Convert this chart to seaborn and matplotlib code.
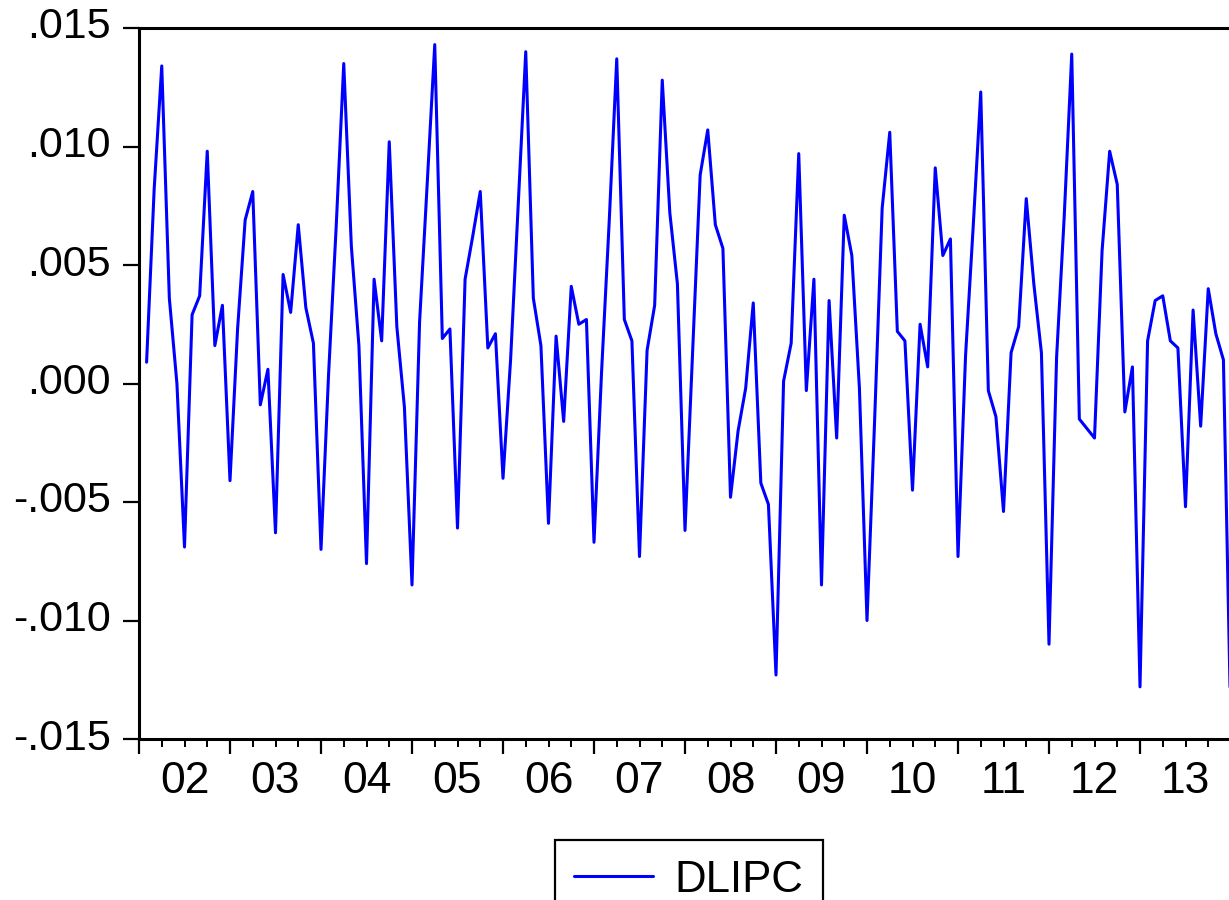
import seaborn as sns
import matplotlib.pyplot as plt
import numpy as np
import pandas as pd
from matplotlib.ticker import FuncFormatter, MultipleLocator
from matplotlib.transforms import ScaledTranslation

# monthly log-difference of IPC (Feb 2002 onwards)
dlipc = [
    0.0009, 0.0082, 0.0134, 0.0036, 0.0000, -0.0069, 0.0029, 0.0037, 0.0098, 0.0016, 0.0033, -0.0041,
    0.0023, 0.0069, 0.0081, -0.0009, 0.0006, -0.0063, 0.0046, 0.0030, 0.0067, 0.0032, 0.0017, -0.0070,
    0.0004, 0.0066, 0.0135, 0.0058, 0.0016, -0.0076, 0.0044, 0.0018, 0.0102, 0.0024, -0.0010, -0.0085,
    0.0026, 0.0084, 0.0143, 0.0019, 0.0023, -0.0061, 0.0044, 0.0062, 0.0081, 0.0015, 0.0021, -0.0040,
    0.0010, 0.0075, 0.0140, 0.0036, 0.0016, -0.0059, 0.0020, -0.0016, 0.0041, 0.0025, 0.0027, -0.0067,
    0.0005, 0.0068, 0.0137, 0.0027, 0.0018, -0.0073, 0.0014, 0.0033, 0.0128, 0.0072, 0.0042, -0.0062,
    0.0013, 0.0088, 0.0107, 0.0067, 0.0057, -0.0048, -0.0020, -0.0002, 0.0034, -0.0042, -0.0051, -0.0123,
    0.0001, 0.0017, 0.0097, -0.0003, 0.0044, -0.0085, 0.0035, -0.0023, 0.0071, 0.0054, -0.0002, -0.0100,
    -0.0016, 0.0074, 0.0106, 0.0022, 0.0018, -0.0045, 0.0025, 0.0007, 0.0091, 0.0054, 0.0061, -0.0073,
    0.0012, 0.0066, 0.0123, -0.0003, -0.0014, -0.0054, 0.0013, 0.0024, 0.0078, 0.0042, 0.0013, -0.0110,
    0.0011, 0.0070, 0.0139, -0.0015, -0.0019, -0.0023, 0.0056, 0.0098, 0.0084, -0.0012, 0.0007, -0.0128,
    0.0018, 0.0035, 0.0037, 0.0018, 0.0015, -0.0052, 0.0031, -0.0018, 0.0040, 0.0021, 0.0010, -0.0149,
]
year_labels = ['02', '03', '04', '05', '06', '07', '08', '09', '10', '11', '12', '13']

df = pd.DataFrame({'month': np.arange(1, len(dlipc) + 1), 'DLIPC': dlipc})

sns.set_theme(style='ticks')
plt.rcParams['font.family'] = ['Liberation Sans', 'DejaVu Sans']
plt.rcParams['text.color'] = 'black'
plt.rcParams['xtick.color'] = 'black'
plt.rcParams['ytick.color'] = 'black'

fig = plt.figure(figsize=(12.29, 9), dpi=100)
ax = fig.add_axes([139 / 1229, 161 / 900, 1092 / 1229, 711 / 900])

sns.lineplot(data=df, x='month', y='DLIPC', ax=ax, color='#0000ff', linewidth=2.2, label='DLIPC')

ax.set_xlim(0, 144)
ax.set_ylim(-0.015, 0.015)
ax.set_xlabel('')
ax.set_ylabel('')

# year ticks (major), quarter ticks (minor), labels centred in each year
ax.xaxis.set_major_locator(MultipleLocator(12))
ax.xaxis.set_minor_locator(MultipleLocator(3))
ax.xaxis.set_major_formatter(FuncFormatter(lambda v, p: ''))
for i, lab in enumerate(year_labels):
    ax.text(6 + 12 * i, -0.01728, lab, ha='center', va='baseline', fontsize=32,
            color='black', clip_on=False)


def eviews_fmt(v, p):
    if abs(v) < 1e-9:
        return '.000'
    s = ('%.3f' % abs(v)).lstrip('0')
    return ('-' + s) if v < 0 else s


ax.yaxis.set_major_locator(MultipleLocator(0.005))
ax.yaxis.set_major_formatter(FuncFormatter(eviews_fmt))

ax.tick_params(axis='y', which='major', direction='out', length=11.5, width=1.6,
               labelsize=31, pad=9)
ax.tick_params(axis='x', which='major', direction='out', length=11, width=1.6, pad=2)
ax.tick_params(axis='x', which='minor', direction='out', length=6, width=1.4)

# EViews draws the value labels a little above their ticks
for lab in ax.get_yticklabels():
    lab.set_transform(lab.get_transform() + ScaledTranslation(0, 5 / 100, fig.dpi_scale_trans))

for s in ax.spines.values():
    s.set_color('black')
    s.set_linewidth(2.2)

ax.legend_.remove()
handles, labels = ax.get_legend_handles_labels()
leg = fig.legend(handles, labels, loc='upper center', bbox_to_anchor=(688.5 / 1229, 60 / 900),
                 fontsize=31.5, frameon=True, fancybox=False, shadow=False,
                 handlelength=1.8, handletextpad=0.48, borderpad=0.45, borderaxespad=0)
leg.get_frame().set_edgecolor('black')
leg.get_frame().set_linewidth(1.6)
leg.get_frame().set_alpha(1)

fig.savefig('out.png', dpi=100, facecolor='white')
